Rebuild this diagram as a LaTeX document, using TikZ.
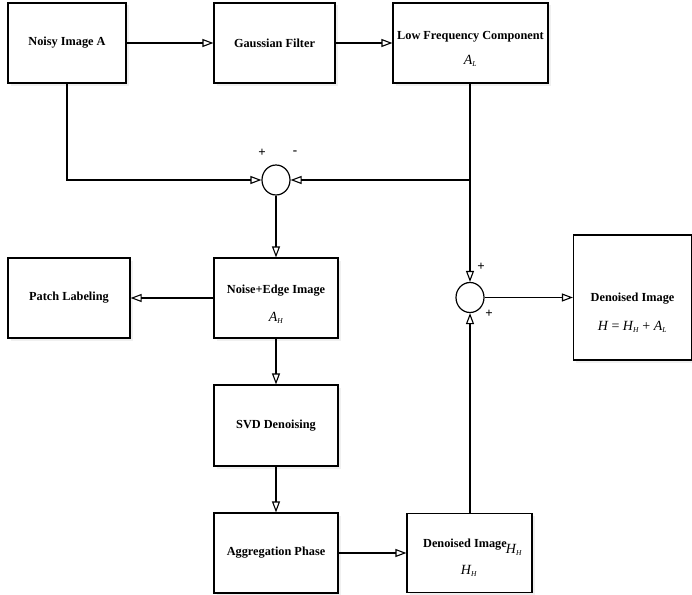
\documentclass[tikz,border=0pt]{standalone}
\usepackage{fontspec}
\setmainfont{Liberation Serif}
\usetikzlibrary{arrows.meta,shadows,shapes.geometric}
\begin{document}
\begin{tikzpicture}[x=1pt,y=-1pt,
  box/.style={draw,line width=1.2pt,fill=white,inner sep=0pt,
    drop shadow={opacity=0.12,shadow xshift=2.5pt,shadow yshift=-2.5pt}},
  ttl/.style={font=\fontsize{12.3}{13}\selectfont\bfseries,inner sep=0pt},
  mth/.style={font=\fontsize{14}{15}\selectfont,inner sep=0pt},
  sumc/.style={draw,line width=1.2pt,fill=white,ellipse,minimum width=28pt,minimum height=30pt,inner sep=0pt},
  sgn/.style={font=\fontsize{13}{13}\selectfont\bfseries,inner sep=0pt},
  conn/.style={line width=1.1pt,-{Triangle[open,length=11pt,width=8pt]}},
  plain/.style={line width=1.1pt}]
\useasboundingbox (0,0) rectangle (692,594);
% boxes
\node[box,minimum width=118pt,minimum height=80pt] (noisy) at (67,43) {};
\node[ttl] (noisyT) at (67,43) {Noisy Image A};
\node[box,minimum width=121pt,minimum height=80pt] (gauss) at (274.5,43) {};
\node[ttl] (gaussT) at (274.5,43) {Gaussian Filter};
\node[box,minimum width=155pt,minimum height=80pt] (low) at (470.5,43) {};
\node[ttl] (lowT) at (470.5,37) {Low Frequency Component};
\node[mth] (lowM) at (470.5,61) {\itshape A\textsubscript{\fontsize{7.5}{7.5}\selectfont L}};
\node[box,minimum width=122pt,minimum height=80pt] (patch) at (69,298) {};
\node[ttl] (patchT) at (69,298) {Patch Labeling};
\node[box,minimum width=124pt,minimum height=80pt] (ne) at (276,298) {};
\node[ttl] (neT) at (276,291) {Noise+Edge Image};
\node[mth] (neM) at (276,318) {\itshape A\textsubscript{\fontsize{7.5}{7.5}\selectfont H}};
\node[box,minimum width=124pt,minimum height=81pt] (svd) at (276,425.5) {};
\node[ttl] (svdT) at (276,425.5) {SVD Denoising};
\node[box,minimum width=124pt,minimum height=80pt] (agg) at (276,553) {};
\node[ttl] (aggT) at (276,553) {Aggregation Phase};
\node[box,minimum width=125pt,minimum height=79pt] (db) at (469.5,553) {};
\node[ttl] (dbT) at (465,545) {Denoised Image};
\node[mth] (dbM2) at (514,550) {\itshape H\textsubscript{\fontsize{7.5}{7.5}\selectfont H}};
\node[mth] (dbM) at (469,571) {\itshape H\textsubscript{\fontsize{7.5}{7.5}\selectfont H}};
\node[box,minimum width=118pt,minimum height=125pt] (dr) at (632.5,297.5) {};
\node[ttl] (drT) at (632.5,299) {Denoised Image};
\node[mth] (drM) at (632.5,327) {\itshape H \upshape= \itshape H\textsubscript{\fontsize{7.5}{7.5}\selectfont H} \upshape+ \itshape A\textsubscript{\fontsize{7.5}{7.5}\selectfont L}};
% summing junctions
\node[sumc] (s1) at (276,180) {};
\node[sumc] (s2) at (470,297.5) {};
\node[sgn] (p1) at (262,153) {+};
\node[sgn] (m1) at (295,153) {-};
\node[sgn] (p2) at (481,267) {+};
\node[sgn] (p3) at (489,314) {+};
\coordinate (j) at (470,180);
% connectors
\draw[conn] (noisy.east) -- (gauss.west);
\draw[conn] (gauss.east) -- (low.west);
\draw[plain] (low.south -| j) -- (j);
\draw[conn] (j) -- (s1.east);
\draw[conn] (j) -- (s2.north);
\draw[conn] (noisy.south) |- (s1.west);
\draw[conn] (s1.south) -- (ne.north);
\draw[conn] (ne.west) -- (patch.east);
\draw[conn] (ne.south) -- (svd.north);
\draw[conn] (svd.south) -- (agg.north);
\draw[conn] (agg.east) -- (db.west);
\draw[conn] (db.north -| s2) -- (s2.south);
\draw[conn] (s2.east) -- (dr.west);
\end{tikzpicture}
\end{document}
